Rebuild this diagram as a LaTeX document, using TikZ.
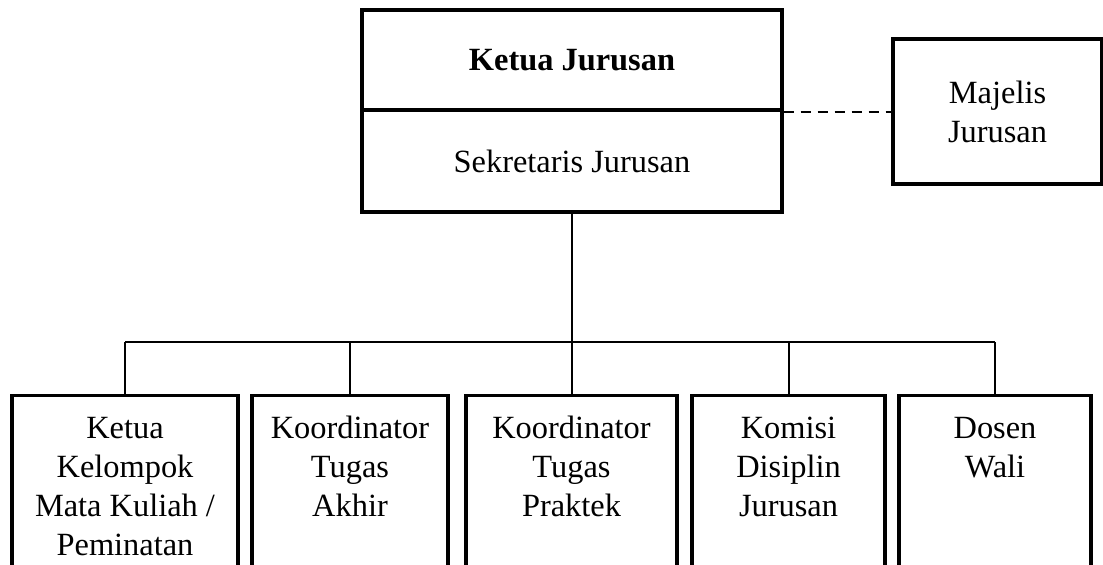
\documentclass[tikz,border=0pt]{standalone}
\usepackage{fontspec}
\setmainfont{Liberation Serif}
\usetikzlibrary{positioning}
\newcommand{\unitlines}[1]{\begin{tabular}[t]{@{}c@{}}#1\end{tabular}}

\begin{document}
\begin{tikzpicture}[x=0.5pt, y=-0.5pt,
    font=\fontsize{16.2}{19.5}\selectfont,
    box/.style={draw, line width=1.65pt, inner sep=0pt, align=center},
    unit/.style={box, anchor=north, inner ysep=4pt, text height=17.5pt, text depth=100pt},
    link/.style={line width=1pt}]
    \useasboundingbox (0, 0) rectangle (1103, 564);
    % Head
    \node (kj) at (572, 60) [box, minimum width=210pt, minimum height=50pt] {\textbf{Ketua Jurusan}};
    \node (sj) at (572, 161) [box, minimum width=210pt, minimum height=51pt] {Sekretaris Jurusan};
    % Majelis
    \node (mj) at (997.5, 111.5) [box, minimum width=104.5pt, minimum height=72.5pt] {Majelis\\Jurusan};
    \draw [link, dash pattern=on 5pt off 3.5pt] (kj.south east) -- (kj.south east -| mj.west);
    % Units
    \node (u1) at (125, 394) [unit, minimum width=113pt] {\unitlines{Ketua\\Kelompok\\Mata Kuliah /\\Peminatan}};
    \node (u2) at (350, 394) [unit, minimum width=98pt] {\unitlines{Koordinator\\Tugas\\Akhir}};
    \node (u3) at (571.5, 394) [unit, minimum width=105.5pt] {\unitlines{Koordinator\\Tugas\\Praktek}};
    \node (u4) at (788.5, 394) [unit, minimum width=96.5pt] {\unitlines{Komisi\\Disiplin\\Jurusan}};
    \node (u5) at (995, 394) [unit, minimum width=96pt] {\unitlines{Dosen\\Wali}};
    % Lines
    \coordinate (hub) at (572, 342);
    \draw [link] (sj.south) -- (hub);
    \draw [link] (u1.north |- hub) -- (u5.north |- hub);
    \foreach \u in {u1, u2, u3, u4, u5}
        \draw [link] (\u.north |- hub) -- (\u.north);
\end{tikzpicture}
\end{document}
